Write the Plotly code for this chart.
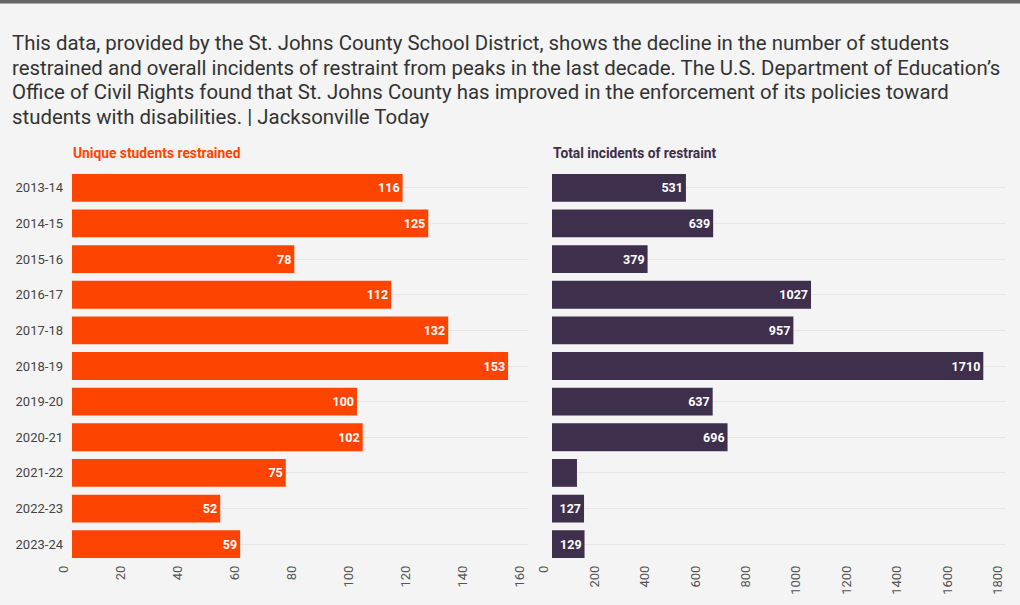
import plotly.graph_objects as go

years = ["2013-14", "2014-15", "2015-16", "2016-17", "2017-18", "2018-19",
         "2019-20", "2020-21", "2021-22", "2022-23", "2023-24"]
students = [116, 125, 78, 112, 132, 153, 100, 102, 75, 52, 59]
incidents = [531, 639, 379, 1027, 957, 1710, 637, 696, 99, 127, 129]
incident_labels = ["531", "639", "379", "1027", "957", "1710", "637", "696", "", "127", "129"]
students_ticks = list(range(0, 161, 20))
incidents_ticks = list(range(0, 1801, 200))

title_lines = [
    "This data, provided by the St. Johns County School District, shows the decline in the number of students",
    "restrained and overall incidents of restraint from peaks in the last decade. The U.S. Department of Education’s",
    "Office of Civil Rights found that St. Johns County has improved in the enforcement of its policies toward",
    "students with disabilities. | Jacksonville Today",
]

W, H = 1020, 605
FONT = "Roboto"
ORANGE = "#fe4401"
PURPLE = "#3e2f4d"
BG = "#f4f4f4"
SHIFT = 8  # px: tick labels sit just left of their tick

def px(x):
    return x / W

def py(y):
    return 1 - y / H

fig = go.Figure()
fig.add_trace(go.Bar(
    y=years, x=students, orientation="h", marker=dict(color=ORANGE, line=dict(width=0)),
    text=[str(v) for v in students], textposition="inside", insidetextanchor="end",
    textfont=dict(family=FONT, size=12.5, color="white", weight="bold"),
    width=0.78, xaxis="x", yaxis="y", hoverinfo="skip", cliponaxis=False,
))
fig.add_trace(go.Bar(
    y=years, x=incidents, orientation="h", marker=dict(color=PURPLE, line=dict(width=0)),
    text=incident_labels, textposition="inside", insidetextanchor="end",
    textfont=dict(family=FONT, size=12.5, color="white", weight="bold"),
    width=0.78, xaxis="x2", yaxis="y2", hoverinfo="skip", cliponaxis=False,
))
# empty traces that carry the (slightly shifted) value-axis labels
fig.add_trace(go.Scatter(x=[], y=[], xaxis="x3", yaxis="y3", hoverinfo="skip"))
fig.add_trace(go.Scatter(x=[], y=[], xaxis="x4", yaxis="y4", hoverinfo="skip"))

ydom = [py(562), py(170)]
hidden_x = dict(showgrid=False, zeroline=False, showline=False, showticklabels=False, ticks="",
                automargin=False, fixedrange=True)
label_x = dict(showgrid=False, zeroline=False, showline=False, tickangle=-90,
               tickfont=dict(family=FONT, size=13, color="#555"), ticks="",
               automargin=False, fixedrange=True)
hidden_y = dict(domain=ydom, showgrid=False, zeroline=False, showticklabels=False, ticks="",
                range=[0, 1], automargin=False, fixedrange=True)
fig.update_layout(
    width=W, height=H,
    margin=dict(l=0, r=0, t=0, b=0),
    paper_bgcolor=BG, plot_bgcolor="rgba(0,0,0,0)",
    showlegend=False,
    xaxis=dict(domain=[px(72), px(528)], range=[0, 160], **hidden_x),
    xaxis2=dict(domain=[px(552), px(1006)], range=[0, 1800], **hidden_x),
    xaxis3=dict(domain=[px(72 - SHIFT), px(528 - SHIFT)], range=[0, 160], anchor="y3",
                tickvals=students_ticks, **label_x),
    xaxis4=dict(domain=[px(552 - SHIFT), px(1006 - SHIFT)], range=[0, 1800], anchor="y4",
                tickvals=incidents_ticks, **label_x),
    yaxis=dict(domain=ydom, autorange="reversed", anchor="x", showgrid=True, gridcolor="#e6e6e6",
               gridwidth=1, tickfont=dict(family=FONT, size=13, color="#444"), ticks="",
               ticklabelstandoff=8, automargin=False, fixedrange=True),
    yaxis2=dict(domain=ydom, autorange="reversed", anchor="x2", showgrid=True, gridcolor="#e6e6e6",
                gridwidth=1, showticklabels=False, ticks="", automargin=False, fixedrange=True),
    yaxis3=dict(anchor="x3", **hidden_y),
    yaxis4=dict(anchor="x4", **hidden_y),
    bargap=0.2,
    uniformtext=dict(minsize=8, mode="show"),
)

for i, line in enumerate(title_lines):
    fig.add_annotation(text=line, xref="paper", yref="paper", x=px(10), y=py(43 + i * 24.6),
                       xanchor="left", yanchor="middle", align="left", showarrow=False,
                       font=dict(family=FONT, size=20.4, color="#333"))
fig.add_annotation(text="<b>Unique students restrained</b>", xref="paper", yref="paper",
                   x=px(71), y=py(153), xanchor="left", yanchor="middle", showarrow=False,
                   font=dict(family=FONT, size=13.8, color=ORANGE))
fig.add_annotation(text="<b>Total incidents of restraint</b>", xref="paper", yref="paper",
                   x=px(551), y=py(153), xanchor="left", yanchor="middle", showarrow=False,
                   font=dict(family=FONT, size=13.8, color=PURPLE))
fig.add_shape(type="rect", xref="paper", yref="paper", x0=0, x1=1, y0=py(3.5), y1=1,
              fillcolor="#666666", line=dict(width=0), layer="above")

fig.write_html("out.html", config={"displayModeBar": False},
               post_script="document.body.style.margin='0';document.body.style.overflow='hidden';")
